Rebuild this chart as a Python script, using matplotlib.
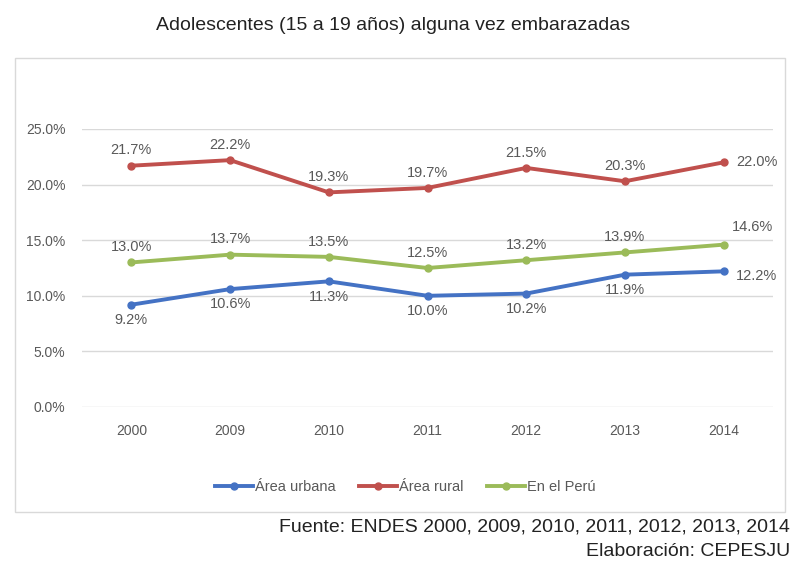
import matplotlib
matplotlib.use("Agg")
import matplotlib.pyplot as plt
from matplotlib.patches import Rectangle

years = ["2000", "2009", "2010", "2011", "2012", "2013", "2014"]
urbana = [9.2, 10.6, 11.3, 10.0, 10.2, 11.9, 12.2]
rural = [21.7, 22.2, 19.3, 19.7, 21.5, 20.3, 22.0]
peru = [13.0, 13.7, 13.5, 12.5, 13.2, 13.9, 14.6]
y_ticks = [0, 5, 10, 15, 20, 25]

plt.rcParams["font.family"] = ["Liberation Sans", "DejaVu Sans"]

fig = plt.figure(figsize=(7.92, 5.65), dpi=100)
# outer chart box
fig.patches.append(Rectangle((15 / 792, 1 - 512 / 565), 770 / 792, 454 / 565,
                             transform=fig.transFigure, fill=False,
                             edgecolor="#D9D9D9", linewidth=1))

ax = fig.add_axes([82 / 792, 1 - 407 / 565, 691 / 792, 278 / 565])
x = list(range(len(years)))

ax.plot(x, urbana, color="#4472C4", lw=2.8, marker="o", ms=5, label="Área urbana")
ax.plot(x, rural, color="#C0504D", lw=2.8, marker="o", ms=5, label="Área rural")
ax.plot(x, peru, color="#9BBB59", lw=2.8, marker="o", ms=5, label="En el Perú")

lab = dict(fontsize=10.5, color="#595959", ha="center")
last = len(years) - 1
for i in x:
    if i == last:
        ax.annotate(f"{rural[i]:.1f}%", (i, rural[i]), xytext=(9, 0), textcoords="offset points", va="center", **{**lab, "ha": "left"})
        ax.annotate(f"{peru[i]:.1f}%", (i, peru[i]), xytext=(6, 8), textcoords="offset points", va="bottom", **{**lab, "ha": "left"})
        ax.annotate(f"{urbana[i]:.1f}%", (i, urbana[i]), xytext=(9, -3), textcoords="offset points", va="center", **{**lab, "ha": "left"})
    else:
        ax.annotate(f"{rural[i]:.1f}%", (i, rural[i]), xytext=(0, 6), textcoords="offset points", va="bottom", **lab)
        ax.annotate(f"{peru[i]:.1f}%", (i, peru[i]), xytext=(0, 6), textcoords="offset points", va="bottom", **lab)
        ax.annotate(f"{urbana[i]:.1f}%", (i, urbana[i]), xytext=(0, -6), textcoords="offset points", va="top", **lab)

ax.set_xlim(-0.5, 6.5)
ax.set_ylim(0, 25)
ax.set_xticks(x)
ax.set_xticklabels(years)
ax.set_yticks(y_ticks)
ax.set_yticklabels([f"{v:.1f}%" for v in y_ticks])
ax.tick_params(length=0, labelsize=10, colors="#595959")
ax.tick_params(axis="x", pad=12)
ax.tick_params(axis="y", pad=12)
ax.grid(axis="y", color="#D9D9D9", lw=1)
ax.set_axisbelow(True)
for s in ax.spines.values():
    s.set_visible(False)

fig.legend(loc="center", bbox_to_anchor=(405 / 792, 1 - 487 / 565), ncol=3, frameon=False,
           fontsize=10.5, labelcolor="#595959", handlelength=2.6, columnspacing=1.6, handletextpad=0.15)

fig.text(393 / 792, 1 - 25 / 565, "Adolescentes (15 a 19 años) alguna vez embarazadas",
         ha="center", va="center", fontsize=14, color="#222222")
fig.text(790 / 792, 1 - 527 / 565, "Fuente: ENDES 2000, 2009, 2010, 2011, 2012, 2013, 2014",
         ha="right", va="center", fontsize=14, color="#222222")
fig.text(790 / 792, 1 - 551 / 565, "Elaboración: CEPESJU",
         ha="right", va="center", fontsize=14, color="#222222")

fig.savefig("out.png", dpi=100)
